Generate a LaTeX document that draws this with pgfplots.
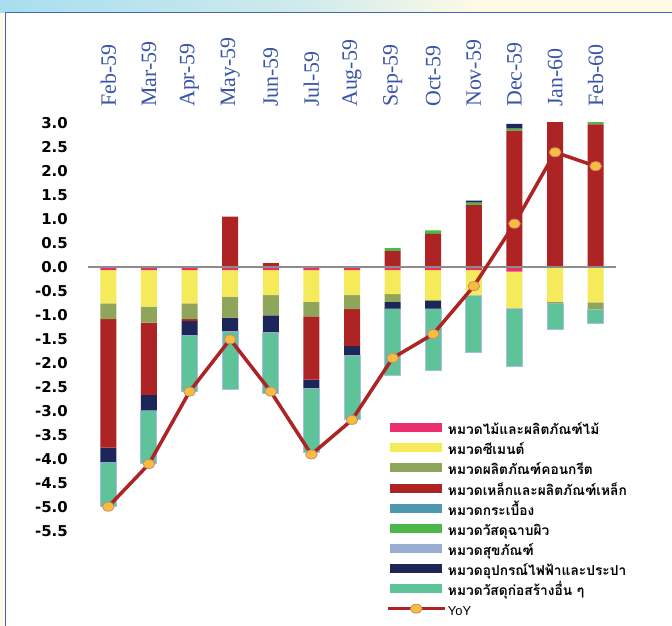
\documentclass[border=0pt]{standalone}
\usepackage{pgfplots}
\pgfplotsset{compat=1.18}
\usepackage{fontspec}
\setmainfont{Liberation Sans}
\newfontfamily\thaifont[Script=Thai]{Loma}
\newfontfamily\tickfont{DejaVu Sans}
\newfontfamily\monthfont{Liberation Serif}

\definecolor{cpink}{RGB}{234,48,108}
\definecolor{cyellow}{RGB}{245,235,90}
\definecolor{colive}{RGB}{143,166,90}
\definecolor{cred}{RGB}{174,35,35}
\definecolor{ctile}{RGB}{78,151,174}
\definecolor{cgreen}{RGB}{76,184,71}
\definecolor{csan}{RGB}{153,174,211}
\definecolor{cnavy}{RGB}{28,38,89}
\definecolor{cother}{RGB}{95,195,154}
\definecolor{cotheredge}{RGB}{170,190,226}
\definecolor{yoyfill}{RGB}{247,190,60}
\definecolor{yoyedge}{RGB}{205,135,125}
\definecolor{monthblue}{RGB}{58,85,168}
\definecolor{framebl}{RGB}{70,100,180}
\definecolor{bandblue}{RGB}{168,222,240}
\definecolor{cream}{RGB}{254,250,230}
\definecolor{zerogray}{RGB}{140,140,140}

\pgfplotsset{
  swatch/.style={legend image code/.code={\path[draw=none,##1] (0bp,-1bp) rectangle (52bp,8bp);}},
  yoyleg/.style={legend image code/.code={\draw[mark repeat=2,mark phase=2,##1] plot coordinates {(-2.5bp,3.5bp) (26bp,3.5bp) (54.5bp,3.5bp)};}},
}

% x: 0=Feb-59 ... 12=Feb-60 ; negative parts stack downward, positive parts upward
\pgfplotstableread{
x pink yellow olive redn navyn othern redp greenp navyp yoy
0  -0.07 -0.69 -0.33 -2.68 -0.30 -0.92 0    0    0    -5.00
1  -0.07 -0.76 -0.33 -1.51 -0.32 -1.10 0    0    0    -4.11
2  -0.07 -0.69 -0.33 -0.04 -0.29 -1.17 0    0    0    -2.60
3  -0.07 -0.55 -0.44  0    -0.28 -1.21 1.05 0    0    -1.51
4  -0.07 -0.52 -0.42  0    -0.35 -1.28 0.08 0    0    -2.60
5  -0.07 -0.66 -0.30 -1.32 -0.18 -1.33 0    0    0    -3.91
6  -0.07 -0.52 -0.29 -0.77 -0.19 -1.35 0    0    0    -3.19
7  -0.07 -0.50 -0.16  0    -0.14 -1.40 0.33 0.06 0    -1.90
8  -0.07 -0.62 -0.02  0    -0.16 -1.28 0.69 0.07 0    -1.40
9  -0.07 -0.52  0     0     0    -1.19 1.29 0.05 0.04 -0.40
10 -0.10 -0.76  0     0     0    -1.22 2.84 0.04 0.10  0.90
11  0    -0.73 -0.03  0     0    -0.55 3.70 0    0     2.39
12  0    -0.74 -0.14  0     0    -0.31 2.97 0.32 0     2.10
}\datatable

\begin{document}
\begin{tikzpicture}
\fill[cream] (0bp,0bp) rectangle (672bp,626bp);
\shade[left color=bandblue, right color=bandblue!55!cream] (0bp,613.5bp) rectangle (300bp,626bp);
\shade[left color=bandblue!55!cream, right color=cream] (300bp,613.5bp) rectangle (480bp,626bp);
\fill[white] (5.5bp,0bp) rectangle (672bp,613.5bp);
\draw[framebl, line width=1.5bp] (5.5bp,0bp) -- (5.5bp,613.5bp) -- (672bp,613.5bp);

\begin{axis}[
  at={(88bp,95.3bp)}, anchor=south west,
  scale only axis, width=528bp, height=407.7bp,
  xmin=-0.5, xmax=12.5, ymin=-5.5, ymax=3,
  ybar stacked, bar width=16bp,
  axis line style={draw=none},
  major tick length=0pt,
  axis on top,
  xtick={0,...,12},
  xticklabels={Feb-59,Mar-59,Apr-59,May-59,Jun-59,Jul-59,Aug-59,Sep-59,Oct-59,Nov-59,Dec-59,Jan-60,Feb-60},
  xticklabel pos=right,
  xticklabel style={font=\monthfont\fontsize{22}{22}\selectfont, text=monthblue, rotate=90, anchor=west, inner sep=0pt},
  xticklabel shift=16bp,
  ytick={-5.5,-5,-4.5,-4,-3.5,-3,-2.5,-2,-1.5,-1,-0.5,0,0.5,1,1.5,2,2.5,3},
  yticklabels={-5.5,-5.0,-4.5,-4.0,-3.5,-3.0,-2.5,-2.0,-1.5,-1.0,-0.5,0.0,0.5,1.0,1.5,2.0,2.5,3.0},
  yticklabel style={font=\tickfont\bfseries\fontsize{15}{15}\selectfont, anchor=east, inner sep=0pt},
  yticklabel shift=20bp,
  extra y ticks={0}, extra y tick labels={},
  extra y tick style={grid=major, major grid style={zerogray, line width=1.3bp}},
]
\addplot[fill=cpink, draw=none] table[x=x,y=pink] {\datatable};
\addplot[fill=cyellow, draw=none] table[x=x,y=yellow] {\datatable};
\addplot[fill=colive, draw=none] table[x=x,y=olive] {\datatable};
\addplot[fill=cred, draw=none] table[x=x,y=redn] {\datatable};
\addplot[fill=cnavy, draw=none] table[x=x,y=navyn] {\datatable};
\addplot[fill=cother, draw=cotheredge, line width=1bp] table[x=x,y=othern] {\datatable};
\addplot[fill=cred, draw=none] table[x=x,y=redp] {\datatable};
\addplot[fill=cgreen, draw=none] table[x=x,y=greenp] {\datatable};
\addplot[fill=cnavy, draw=none] table[x=x,y=navyp] {\datatable};
\end{axis}

\begin{axis}[
  at={(88bp,95.3bp)}, anchor=south west,
  scale only axis, width=528bp, height=407.7bp,
  xmin=-0.5, xmax=12.5, ymin=-5.5, ymax=3,
  hide axis, clip=false,
  legend cell align=left,
  legend style={at={(0.564,0.264)}, anchor=north west, draw=none, fill=none,
    inner sep=0pt, row sep=4.6bp, column sep=1.5bp,
    font=\thaifont\bfseries\fontsize{13.8}{15}\selectfont,
    nodes={inner sep=0pt, text height=11bp, text depth=4bp}},
]
\addlegendimage{swatch, fill=cpink}
\addlegendentry{หมวดไม้และผลิตภัณฑ์ไม้}
\addlegendimage{swatch, fill=cyellow}
\addlegendentry{หมวดซีเมนต์}
\addlegendimage{swatch, fill=colive}
\addlegendentry{หมวดผลิตภัณฑ์คอนกรีต}
\addlegendimage{swatch, fill=cred}
\addlegendentry{หมวดเหล็กและผลิตภัณฑ์เหล็ก}
\addlegendimage{swatch, fill=ctile}
\addlegendentry{หมวดกระเบื้อง}
\addlegendimage{swatch, fill=cgreen}
\addlegendentry{หมวดวัสดุฉาบผิว}
\addlegendimage{swatch, fill=csan}
\addlegendentry{หมวดสุขภัณฑ์}
\addlegendimage{swatch, fill=cnavy}
\addlegendentry{หมวดอุปกรณ์ไฟฟ้าและประปา}
\addlegendimage{swatch, fill=cother, draw=cotheredge, line width=1bp}
\addlegendentry{หมวดวัสดุก่อสร้างอื่น ๆ}
\addplot[yoyleg, color=cred, line width=3.5bp, mark=*, mark size=4.5bp,
  mark options={fill=yoyfill, draw=yoyedge, line width=0.8bp, xscale=1.3}]
  table[x=x,y=yoy] {\datatable};
\addlegendentry{\normalfont\fontsize{13}{14}\selectfont YoY}
\end{axis}
\pgfresetboundingbox
\useasboundingbox (0bp,0bp) rectangle (672bp,626bp);
\end{tikzpicture}
\end{document}
